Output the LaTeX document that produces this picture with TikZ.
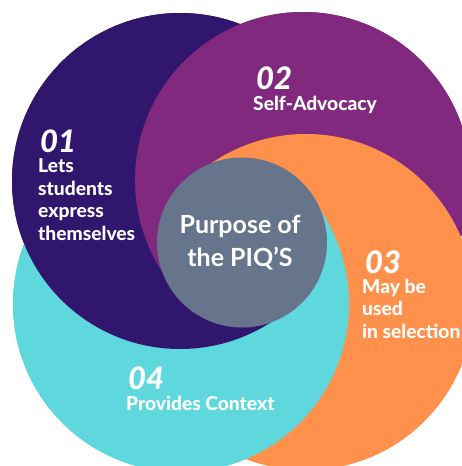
\documentclass[tikz,border=0pt]{standalone}
\usepackage{fontspec}
\setmainfont{Lato}
\newfontfamily\latoheavy{Lato Heavy}
\newfontfamily\latoblack{Lato Black}
\newfontfamily\latobold{Lato Bold}
\definecolor{cdark}{HTML}{31166D}
\definecolor{cpurple}{HTML}{80297E}
\definecolor{corange}{HTML}{FF914D}
\definecolor{cteal}{HTML}{5ED8DC}
\definecolor{cgray}{HTML}{66748C}
\tikzset{
  numtxt/.style={text=white, inner sep=0pt, anchor=base west, font=\fontsize{31}{31}\selectfont\latoblack\itshape},
  labtxt/.style={text=white, inner sep=0pt, anchor=base west, align=left, font=\fontsize{19.2}{22.4}\selectfont\latoheavy},
}
\newcommand\cD{\fill[cdark] (cD) circle[radius=168pt];}
\newcommand\cP{\fill[cpurple] (cP) circle[radius=168pt];}
\newcommand\cO{\fill[corange] (cO) circle[radius=168pt];}
\newcommand\cT{\fill[cteal] (cT) circle[radius=168pt];}
\begin{document}
\begin{tikzpicture}[x=1pt,y=-1pt]
\useasboundingbox (0,0) rectangle (462,466);
\coordinate (cD) at (180,181);
\coordinate (cP) at (303,180);
\coordinate (cO) at (306,302);
\coordinate (cT) at (181,304);
% right sector order (base, unclipped)
\cD \cP \cO \cT
% top sector
\begin{scope}
  \clip (242,248) -- (-800,-793.5) -- (1284,-793.5) -- cycle;
  \begin{scope}[transparency group]
    \cT \cD \cP \cO
  \end{scope}
\end{scope}
% bottom sector
\begin{scope}
  \clip (242,237) -- (-800,1284.5) -- (1284,1284.5) -- cycle;
  \begin{scope}[transparency group]
    \cP \cO \cT \cD
  \end{scope}
\end{scope}
% left sector
\begin{scope}
  \clip (248,242.5) -- (-800,-799.5) -- (-800,1284.5) -- cycle;
  \begin{scope}[transparency group]
    \cO \cT \cD \cP
  \end{scope}
\end{scope}
\node[circle, fill=cgray, minimum size=170pt, inner sep=0pt] (hub) at (242,242.5) {};
\node[text=white, align=center, inner sep=0pt, font=\fontsize{25}{33}\selectfont\latobold] (hubtxt) at (240,243) {Purpose of\\the PIQ’S};
\node[numtxt] (n1) at (40,152) {01};
\node[labtxt] (l1) at (38,240) {Lets\\students\\express\\themselves};
\node[numtxt] (n2) at (256,89) {02};
\node[labtxt] (l2) at (253,110) {Self-Advocacy};
\node[numtxt] (n3) at (365,273) {03};
\node[labtxt] (l3) at (362,338) {May be\\used\\in selection};
\node[numtxt] (n4) at (128,389) {04};
\node[labtxt] (l4) at (126,410) {Provides Context};
\end{tikzpicture}
\end{document}
